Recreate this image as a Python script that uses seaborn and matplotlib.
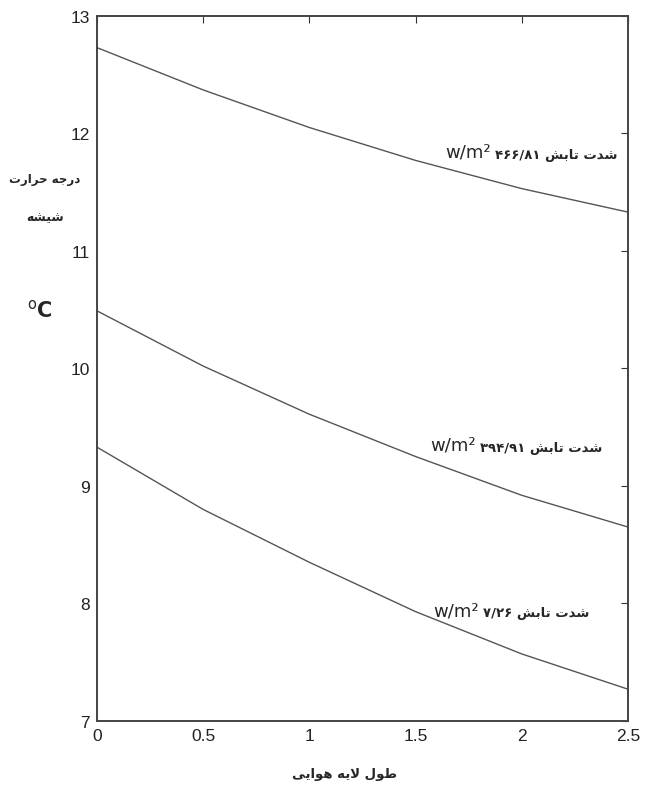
import pandas as pd
import matplotlib.pyplot as plt
import seaborn as sns

# air layer length (x) and glass temperature (y) for three radiation levels
x_vals = [0, 0.5, 1, 1.5, 2, 2.5]
temp_high = [12.73, 12.37, 12.05, 11.77, 11.53, 11.33]
temp_mid = [10.49, 10.02, 9.61, 9.25, 8.92, 8.65]
temp_low = [9.33, 8.80, 8.35, 7.93, 7.57, 7.27]

radiation_vals = ['۴۶۶/۸۱', '۳۹۴/۹۱', '۷/۲۶']
label_word = 'شدت تابش'
ylabel_1 = 'درجه حرارت'
ylabel_2 = 'شیشه'
xlabel = 'طول لایه هوایی'

x_ticks = [0, 0.5, 1, 1.5, 2, 2.5]
y_ticks = [7, 8, 9, 10, 11, 12, 13]

# matplotlib has no arabic shaping -> tiny reshaper for the letters used here
FORMS = {
    'ا': ('\uFE8D', '\uFE8E', None, None),
    'ب': ('\uFE8F', '\uFE90', '\uFE91', '\uFE92'),
    'ت': ('\uFE95', '\uFE96', '\uFE97', '\uFE98'),
    'ج': ('\uFE9D', '\uFE9E', '\uFE9F', '\uFEA0'),
    'ح': ('\uFEA1', '\uFEA2', '\uFEA3', '\uFEA4'),
    'د': ('\uFEA9', '\uFEAA', None, None),
    'ر': ('\uFEAD', '\uFEAE', None, None),
    'ش': ('\uFEB5', '\uFEB6', '\uFEB7', '\uFEB8'),
    'ط': ('\uFEC1', '\uFEC2', '\uFEC3', '\uFEC4'),
    'ل': ('\uFEDD', '\uFEDE', '\uFEDF', '\uFEE0'),
    'ه': ('\uFEE9', '\uFEEA', '\uFEEB', '\uFEEC'),
    'و': ('\uFEED', '\uFEEE', None, None),
    'ی': ('\uFBFC', '\uFBFD', '\uFBFE', '\uFBFF'),
}
LAM_ALEF = ('\uFEFB', '\uFEFC')


def shape(s):
    tokens = []
    i = 0
    while i < len(s):
        if s[i] == 'ل' and i + 1 < len(s) and s[i + 1] == 'ا':
            tokens.append('LA')
            i += 2
        else:
            tokens.append(s[i])
            i += 1

    def joins_next(t):
        return t in FORMS and FORMS[t][2] is not None

    def joins_prev(t):
        return t == 'LA' or t in FORMS

    out = []
    for k, t in enumerate(tokens):
        prev = tokens[k - 1] if k > 0 else None
        nxt = tokens[k + 1] if k + 1 < len(tokens) else None
        p = prev is not None and joins_next(prev) and joins_prev(t)
        n = nxt is not None and joins_prev(nxt) and joins_next(t)
        if t == 'LA':
            out.append(LAM_ALEF[1] if p else LAM_ALEF[0])
        elif t in FORMS:
            iso, fin, ini, med = FORMS[t]
            out.append(med if (p and n) else fin if p else ini if n else iso)
        else:
            out.append(t)
    return ''.join(reversed(out))


df = pd.DataFrame({
    'x': x_vals * 3,
    'temp': temp_high + temp_mid + temp_low,
    'series': ['high'] * 6 + ['mid'] * 6 + ['low'] * 6,
})

sns.set_style('white')
plt.rcParams['font.family'] = ['Liberation Sans', 'DejaVu Sans']

fig = plt.figure(figsize=(6.46, 8.03), dpi=100)
ax = fig.add_axes([0.150, 0.101, 0.822, 0.878])

sns.lineplot(data=df, x='x', y='temp', units='series', estimator=None,
             color='#555555', linewidth=1.0, ax=ax, legend=False)

ax.set_xlim(0, 2.5)
ax.set_ylim(7, 13)
ax.set_xticks(x_ticks)
ax.set_xticklabels(['0', '0.5', '1', '1.5', '2', '2.5'])
ax.set_yticks(y_ticks)
ax.tick_params(direction='in', length=5, width=0.8, colors='#333333',
               labelsize=12.5, top=True, right=True, pad=5)
ax.tick_params(axis='both', labelcolor='#222222')
for sp in ax.spines.values():
    sp.set_visible(True)
    sp.set_color('#444444')
    sp.set_linewidth(1.4)
ax.set_xlabel('')
ax.set_ylabel('')

# curve labels: bold persian word + number, "w/m²" to the left of it
label_pos = [(2.45, 11.82), (2.38, 9.33), (2.32, 7.92)]
for val, (lx, ly) in zip(radiation_vals, label_pos):
    t = ax.text(lx, ly, val + ' ' + shape(label_word), ha='right', va='center',
                family='DejaVu Sans', weight='bold', fontsize=9.5)
    ax.annotate('w/m²', xy=(0, 0.5), xycoords=t, xytext=(-3, 2),
                textcoords='offset points', ha='right', va='center',
                family='DejaVu Sans', fontsize=13)

# y label (three lines on the left)
fig.text(45 / 646, 1 - 180 / 803, shape(ylabel_1), ha='center', va='center',
         family='DejaVu Sans', weight='bold', fontsize=8.5)
fig.text(45 / 646, 1 - 218 / 803, shape(ylabel_2), ha='center', va='center',
         family='DejaVu Sans', weight='bold', fontsize=9)
fig.text(40 / 646, 1 - 310 / 803, r'$^{\rm o}$C', ha='center', va='center',
         family='DejaVu Sans', weight='bold', fontsize=15)

# x label
fig.text(345 / 646, 1 - 775 / 803, shape(xlabel), ha='center', va='center',
         family='DejaVu Sans', weight='bold', fontsize=9.5)

fig.savefig('out.png', dpi=100)
